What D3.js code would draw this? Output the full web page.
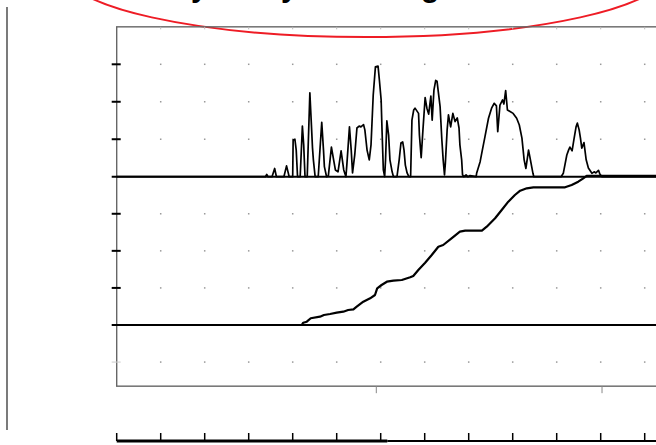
<!DOCTYPE html>
<html>
<head>
<meta charset="utf-8">
<script src="https://cdn.jsdelivr.net/npm/d3@7"></script>
<style>
  html, body { margin: 0; padding: 0; background: #fff; }
  svg { display: block; }
</style>
</head>
<body>
<div id="chart"></div>
<script>
// Daily rainfall (upper panel) and cumulative total (lower panel)
const titleText = "Every Rainy Hour Log and Total";

// x ticks (days) shared by the plot and the ruler below it
const dayTicks = [0, 10, 20, 30, 40, 50, 60, 70, 80, 90, 100, 110, 120];
const periodMarks = [59, 110.3];          // extra marks under the frame
const rainTicks = [10, 20, 30];           // mm
const cumTicks = [-100, 100, 200, 300];   // mm

// daily rainfall, mm
const rainDay = [0, 33.0, 33.8, 34.1, 34.4, 35.3, 35.9, 36.3, 38.0, 38.6, 39.2, 40.0, 40.1, 40.5, 40.8, 41.1,
  41.7, 42.2, 42.5, 42.8, 43.3, 43.9, 44.2, 44.5, 44.7, 45.1, 45.8, 46.6, 47.0, 47.2, 47.7,
  48.1, 48.8, 49.3, 49.7, 50.3, 51.0, 51.6, 52.1, 52.3, 52.9, 53.3, 53.6, 54.1, 54.6, 55.1,
  55.5, 56.1, 56.4, 56.9, 57.4, 57.8, 58.3, 58.8, 59.4, 59.7, 60.1, 60.3, 60.6, 60.9, 61.1,
  61.4, 61.8, 62.1, 62.6, 62.9, 63.7, 64.2, 64.6, 65.0, 65.3, 65.6, 66.0, 66.4, 66.8, 67.1,
  67.5, 67.8, 68.6, 68.8, 69.2, 69.6, 70.1, 70.5, 70.9, 71.4, 71.7, 72.1, 72.5, 72.8, 73.1,
  73.5, 73.9, 74.2, 74.5, 74.7, 75.1, 75.4, 75.9, 76.4, 76.9, 77.4, 77.8, 78.0, 78.4, 78.6,
  78.9, 79.4, 79.8, 80.3, 81.7, 81.8, 82.6, 83.1, 83.7, 84.5, 85.2, 85.8, 86.3, 86.6, 87.1,
  87.7, 88.0, 88.4, 88.8, 89.4, 90.1, 90.9, 91.5, 92.1, 92.6, 93.0, 93.6, 93.9, 94.6, 94.8,
  101.0, 101.5, 102.3, 102.7, 103.0, 103.5, 103.9, 104.4, 104.7, 105.1, 105.4, 105.7, 106.2,
  106.7, 107.2, 108.0, 108.5, 108.9, 109.5, 109.8, 110.3, 125];
const rainMm = [0, 0, 0, 0.6, 0, 0, 2.2, 0, 0, 2.9, 0, 0, 9.8, 10.0, 7.1, 0,
  0, 13.5, 8.5, 0, 0, 22.4, 15.1, 7.7, 4.5, 0, 0, 14.5, 7.1, 2.7, 0,
  0.2, 7.9, 4.5, 1.8, 1.3, 6.9, 1.8, 0, 3.1, 13.3, 7.1, 1.0, 5.8, 13.0, 13.5,
  13.3, 13.9, 12.5, 7.1, 4.5, 8.5, 21.8, 29.3, 29.5, 25.8, 20.5, 12.5, 1.8, 0, 4.5,
  14.9, 11.1, 4.5, 1.3, 0, 0, 4.5, 9.0, 9.3, 7.1, 3.1, 1.0, 0, 0, 15.1,
  17.8, 18.3, 16.9, 11.1, 5.1, 12.5, 21.1, 18.3, 16.7, 21.5, 15.1, 23.1, 25.7, 25.5, 22.6,
  18.7, 9.8, 4.5, 0.5, 3.7, 12.5, 16.5, 13.3, 16.9, 14.7, 15.7, 13.0, 8.5, 4.5, 0.5,
  0, 0.5, 0, 0.3, 0, 0.9, 4.0, 7.1, 10.7, 15.6, 18.3, 19.6, 18.9, 12.0, 19.1,
  20.5, 19.4, 23.0, 17.8, 17.4, 16.9, 15.6, 13.8, 10.3, 4.5, 2.2, 7.1, 5.3, 0.9, 0,
  0, 0.9, 5.8, 7.1, 7.9, 6.9, 9.8, 13.3, 14.3, 12.5, 10.3, 7.6, 9.1,
  4.5, 2.3, 0.9, 1.3, 1.0, 1.7, 0.7, 0, 0];

// cumulative rainfall, mm
const cumDay = [40.5, 42.05, 42.4, 43.2, 44.1, 46.2, 47.1, 48.5, 50.0, 51.5, 52.6, 53.8, 54.55,
  56.05, 57.6, 58.7, 59.2, 60.2, 61.4, 62.9, 64.8, 66.7, 67.4, 68.55, 70.1, 71.6, 73.1,
  74.2, 76.1, 78.0, 79.2, 83.0, 84.1, 86.0, 87.5, 89.0, 90.5, 91.7, 93.2, 94.7, 101.9,
  103.4, 104.9, 106.05, 106.8, 125];
const cumMm = [0, 0, 6.2, 8.9, 18.1, 22.4, 27.0, 29.7, 33.2, 35.9, 40.5, 42.3, 49.4,
  62.8, 72.0, 80.9, 99.0, 107.9, 116.8, 119.5, 121.4, 128.7, 132.2, 148.4, 168.0, 188.8, 211.2,
  215.8, 233.9, 251.7, 254.4, 254.4, 265.1, 287.8, 310.2, 332.6, 350.6, 362.2, 368.7, 371.4, 371.4,
  377.6, 386.5, 395.7, 402, 402];

// ruler under the chart: heavy part then light part
const rulerSegments = [[0, 61.5, 3], [61.5, 130, 2]];

const W = 656, H = 445;
const svg = d3.select("#chart").append("svg").attr("width", W).attr("height", H);

const x = d3.scaleLinear().domain([0, 120]).range([116.7, 644.7]);
const yRain = d3.scaleLinear().domain([0, 30]).range([176.7, 64.3]);
const yCum = d3.scaleLinear().domain([0, 400]).range([325, 176.7]);

const frameLeft = x(0), frameRight = x(130);
const frameTop = yRain(40), frameBottom = yCum(-165);

// title with hand-drawn highlight ring
svg.append("text")
  .attr("x", 126).attr("y", -3)
  .attr("text-anchor", "start")
  .attr("font-family", "'Liberation Sans', Arial, sans-serif")
  .attr("font-weight", "bold")
  .attr("font-size", 30)
  .attr("fill", "#000")
  .text(titleText);
svg.append("ellipse")
  .attr("cx", 366).attr("cy", -30).attr("rx", 303).attr("ry", 67)
  .attr("fill", "none").attr("stroke", "#ee1c25").attr("stroke-width", 2);

// left page rule
svg.append("line").attr("x1", 7).attr("x2", 7).attr("y1", 7).attr("y2", 430)
  .attr("stroke", "#333").attr("stroke-width", 1.3);

// frame
svg.append("rect")
  .attr("x", frameLeft).attr("y", frameTop)
  .attr("width", frameRight - frameLeft).attr("height", frameBottom - frameTop)
  .attr("fill", "none").attr("stroke", "#666").attr("stroke-width", 1.4);

// small ticks on the top edge
svg.append("g").selectAll("line").data(dayTicks.slice(1)).join("line")
  .attr("x1", d => x(d)).attr("x2", d => x(d))
  .attr("y1", frameTop).attr("y2", frameTop + 2.5)
  .attr("stroke", "#bbb").attr("stroke-width", 1);

// marks under the bottom edge
svg.append("g").selectAll("line").data(periodMarks).join("line")
  .attr("x1", d => x(d)).attr("x2", d => x(d))
  .attr("y1", frameBottom).attr("y2", frameBottom + 7)
  .attr("stroke", "#888").attr("stroke-width", 1);

// dotted grid
const gridRows = rainTicks.map(v => yRain(v)).concat(cumTicks.map(v => yCum(v)));
const gridPts = [];
gridRows.forEach(gy => dayTicks.slice(1).forEach(d => gridPts.push([x(d), gy])));
svg.append("g").selectAll("rect").data(gridPts).join("rect")
  .attr("x", d => d[0] - 0.75).attr("y", d => d[1] - 0.75)
  .attr("width", 1.5).attr("height", 1.5).attr("fill", "#999");

// y ticks on the left edge
const tickRows = rainTicks.map(v => ({ y: yRain(v), faint: false }))
  .concat(cumTicks.map(v => ({ y: yCum(v), faint: v < 0 })));
svg.append("g").selectAll("line").data(tickRows).join("line")
  .attr("x1", frameLeft - 5).attr("x2", frameLeft + 4)
  .attr("y1", d => d.y).attr("y2", d => d.y)
  .attr("stroke", d => d.faint ? "#ccc" : "#000")
  .attr("stroke-width", d => d.faint ? 1 : 2);

// baselines of both panels
svg.append("g").selectAll("line").data([yRain(0), yCum(0)]).join("line")
  .attr("x1", frameLeft - 5).attr("x2", frameRight)
  .attr("y1", d => d).attr("y2", d => d)
  .attr("stroke", "#000").attr("stroke-width", 2);

// rainfall trace
const rainPts = rainDay.map((d, i) => [d, rainMm[i]]);
svg.append("path")
  .datum(rainPts)
  .attr("fill", "none").attr("stroke", "#000").attr("stroke-width", 1.7)
  .attr("stroke-linejoin", "round")
  .attr("d", d3.line().x(d => x(d[0])).y(d => yRain(d[1])));

// cumulative trace
const cumPts = cumDay.map((d, i) => [d, cumMm[i]]);
svg.append("path")
  .datum(cumPts)
  .attr("fill", "none").attr("stroke", "#000").attr("stroke-width", 2.2)
  .attr("stroke-linejoin", "round")
  .attr("d", d3.line().x(d => x(d[0])).y(d => yCum(d[1])));

// ruler below the chart
const rulerY = 441;
svg.append("g").selectAll("line").data(rulerSegments).join("line")
  .attr("x1", d => x(d[0])).attr("x2", d => x(d[1]))
  .attr("y1", rulerY).attr("y2", rulerY)
  .attr("stroke", "#000").attr("stroke-width", d => d[2]);
svg.append("g").selectAll("line").data(dayTicks).join("line")
  .attr("x1", d => x(d)).attr("x2", d => x(d))
  .attr("y1", rulerY - 8).attr("y2", rulerY)
  .attr("stroke", "#000").attr("stroke-width", 1.5);
</script>
</body>
</html>
